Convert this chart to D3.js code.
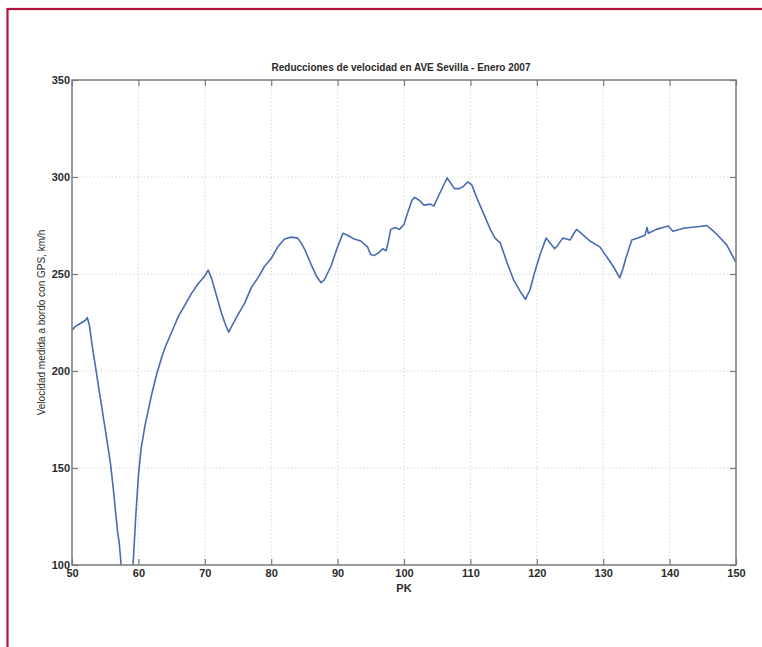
<!DOCTYPE html>
<html>
<head>
<meta charset="utf-8">
<script src="https://cdn.jsdelivr.net/npm/d3@7"></script>
<style>
  html, body { margin: 0; padding: 0; background: #fff; }
  svg { display: block; }
  text { font-family: "Liberation Sans", Arial, Helvetica, sans-serif; fill: #2a2a2a; }
</style>
</head>
<body>
<svg id="chart" width="762" height="647"></svg>
<script>
// Kilometre point (PK) along the line
const pk = [
  50.0, 50.5, 51.0, 51.5, 52.0, 52.3, 52.6, 53.0, 53.5, 54.0, 54.5, 55.0, 55.5, 55.8, 56.2, 56.6, 56.9, 57.1, 57.4,
  58.3, 59.2, 59.6, 60.0, 60.4, 61.0, 61.5, 62.0, 62.8, 63.5, 64.0, 65.0, 66.0, 67.0, 68.0, 69.0, 70.0, 70.5,
  71.0, 71.5, 72.0, 72.5, 73.0, 73.6, 74.2, 75.0, 76.0, 77.0, 78.0, 79.0, 80.0, 81.0, 82.0, 83.0, 84.0, 84.5,
  85.0, 86.0, 86.8, 87.5, 88.0, 89.0, 90.0, 90.8, 91.5, 92.5, 93.5, 94.5, 95.0, 95.5, 96.2, 96.8, 97.3, 97.6,
  98.0, 98.7, 99.3, 100.0, 100.5, 101.2, 101.6, 102.3, 103.0, 104.0, 104.5, 105.3, 106.0, 106.5, 107.0, 107.6,
  108.3, 108.9, 109.6, 110.2, 111.0, 112.0, 113.0, 113.7, 114.5, 115.5, 116.5, 117.5, 118.3, 119.0, 119.6, 120.5,
  121.4, 122.0, 122.7, 123.2, 123.9, 124.5, 125.0, 125.6, 126.0, 127.0, 128.0, 129.5, 130.5, 131.5, 132.5, 133.0,
  133.4, 134.3, 135.2, 136.3, 136.6, 136.8, 138.0, 139.0, 139.8, 140.5, 142.0, 143.0, 144.5, 145.6, 146.3, 147.1,
  148.6, 150.0
];

// Speed measured on board with GPS, km/h
const speed = [
  221, 223, 224, 225, 226, 227.5, 224, 214, 203, 192, 181, 170, 159, 152, 140, 126, 116, 112, 100,
  75, 100, 125, 146, 160, 172, 180, 188, 199, 207, 212, 220, 228, 234, 240, 245, 249, 252,
  248, 242, 236, 230, 225, 220, 224, 229, 235, 243, 248, 254, 258, 264, 268, 269, 268.5, 266,
  263, 255, 249, 245.5, 247, 254, 264, 271, 270, 268, 267, 264, 260, 259.5, 261, 263, 262, 266,
  273, 274, 273, 275.5, 281, 288, 289.5, 288, 285.5, 286, 285, 291, 296, 299.5, 297, 294,
  294, 295, 297.5, 296, 289, 281, 273, 268.5, 266, 256, 247, 241, 237, 242, 250, 260,
  268.5, 266, 263, 265, 268.5, 268, 267.5, 271, 273, 270, 267, 264, 259, 254, 248, 253,
  258, 267.5, 268.5, 270, 274, 271, 273, 274, 274.7, 272, 273.5, 274, 274.5, 275, 273, 270.5,
  265, 256
];

const xTicks = [50, 60, 70, 80, 90, 100, 110, 120, 130, 140, 150];
const yTicks = [100, 150, 200, 250, 300, 350];

const titleText = "Reducciones de velocidad en AVE Sevilla - Enero 2007";
const xLabel = "PK";
const yLabel = "Velocidad medida a bordo con GPS, km/h";

const svg = d3.select("#chart");
const W = 762, H = 647;
const plot = { left: 72, right: 736, top: 80, bottom: 565 };

// Page frame
svg.append("rect")
  .attr("x", 7.5).attr("y", 9)
  .attr("width", W + 20).attr("height", H + 20)
  .attr("fill", "none")
  .attr("stroke", "#b3123f")
  .attr("stroke-width", 2.2);

const x = d3.scaleLinear().domain([50, 150]).range([plot.left, plot.right]);
const y = d3.scaleLinear().domain([100, 350]).range([plot.bottom, plot.top]);

// Dotted grid
const grid = svg.append("g").attr("stroke", "#c4c4c4").attr("stroke-width", 0.8)
  .attr("stroke-dasharray", "1.2,2.4");
grid.selectAll("line.vx").data(xTicks.slice(1, -1)).join("line")
  .attr("x1", d => x(d)).attr("x2", d => x(d))
  .attr("y1", plot.top).attr("y2", plot.bottom);
grid.selectAll("line.hy").data(yTicks.slice(1, -1)).join("line")
  .attr("x1", plot.left).attr("x2", plot.right)
  .attr("y1", d => y(d)).attr("y2", d => y(d));

// Speed trace, clipped to the axes box
svg.append("clipPath").attr("id", "plotclip")
  .append("rect")
  .attr("x", plot.left).attr("y", plot.top)
  .attr("width", plot.right - plot.left).attr("height", plot.bottom - plot.top);

const pts = pk.map((p, i) => [p, speed[i]]);
const line = d3.line().x(d => x(d[0])).y(d => y(d[1]));
svg.append("path")
  .datum(pts)
  .attr("clip-path", "url(#plotclip)")
  .attr("fill", "none")
  .attr("stroke", "#4a6ab2")
  .attr("stroke-width", 1.6)
  .attr("stroke-linejoin", "round")
  .attr("d", line);

// Axes with inward ticks
const tickLen = 6;
const axisColor = "#7a7a7a";
function styleAxis(g) {
  g.select(".domain").remove();
  g.selectAll(".tick line").attr("stroke", axisColor).attr("stroke-width", 1.2);
  g.selectAll(".tick text")
    .attr("font-size", 11)
    .attr("font-weight", "bold")
    .attr("fill", "#3a3a3a");
}

svg.append("g")
  .attr("transform", `translate(0,${plot.bottom})`)
  .call(d3.axisBottom(x).tickValues(xTicks).tickFormat(d3.format("d"))
    .tickSizeInner(-tickLen).tickSizeOuter(0).tickPadding(4))
  .call(styleAxis)
  .call(g => g.selectAll(".tick text").attr("dy", "0.72em").attr("y", 4));

svg.append("g")
  .attr("transform", `translate(0,${plot.top})`)
  .call(d3.axisTop(x).tickValues(xTicks).tickFormat("")
    .tickSizeInner(-tickLen).tickSizeOuter(0))
  .call(styleAxis);

svg.append("g")
  .attr("transform", `translate(${plot.left},0)`)
  .call(d3.axisLeft(y).tickValues(yTicks).tickFormat(d3.format("d"))
    .tickSizeInner(-tickLen).tickSizeOuter(0).tickPadding(2))
  .call(styleAxis);

svg.append("g")
  .attr("transform", `translate(${plot.right},0)`)
  .call(d3.axisRight(y).tickValues(yTicks).tickFormat("")
    .tickSizeInner(-tickLen).tickSizeOuter(0))
  .call(styleAxis);

// Axes box
svg.append("rect")
  .attr("x", plot.left).attr("y", plot.top)
  .attr("width", plot.right - plot.left).attr("height", plot.bottom - plot.top)
  .attr("fill", "none")
  .attr("stroke", axisColor)
  .attr("stroke-width", 1.5);

// Title and axis labels
svg.append("text")
  .attr("x", (plot.left + plot.right) / 2 - 3).attr("y", 71)
  .attr("text-anchor", "middle")
  .attr("font-size", 10)
  .attr("font-weight", "bold")
  .attr("fill", "#2a2a2a")
  .text(titleText);

svg.append("text")
  .attr("x", (plot.left + plot.right) / 2).attr("y", 592)
  .attr("text-anchor", "middle")
  .attr("font-size", 11)
  .attr("font-weight", "bold")
  .text(xLabel);

svg.append("text")
  .attr("transform", `translate(45,${(plot.top + plot.bottom) / 2}) rotate(-90)`)
  .attr("text-anchor", "middle")
  .attr("font-size", 10)
  .text(yLabel);
</script>
</body>
</html>
